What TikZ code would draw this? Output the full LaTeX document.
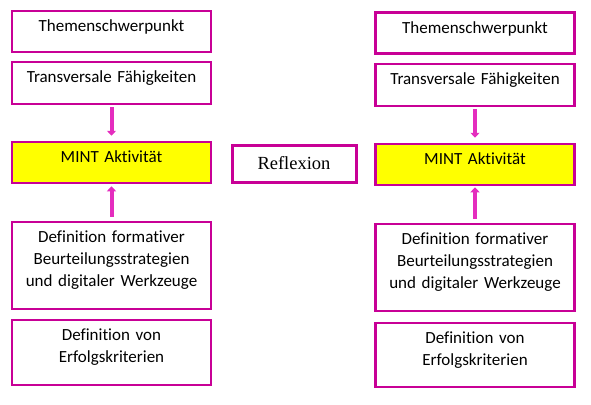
\documentclass[tikz,border=0pt]{standalone}
\usepackage{fontspec}
\setmainfont{Carlito}[Ligatures={NoCommon}]
\newfontfamily\reflexfont{Liberation Serif}
\usetikzlibrary{arrows.meta}
\definecolor{boxpink}{RGB}{200,0,150}
\definecolor{arrowpink}{RGB}{228,45,190}
\definecolor{mintyellow}{RGB}{255,255,0}
\begin{document}
\begin{tikzpicture}[x=1pt,y=-1pt,
	box/.style={draw=boxpink,line width=2.5pt,minimum width=199pt},
	txt/.style={anchor=base,yshift=-22pt,text width=195pt,align=center,inner sep=0pt,font=\fontsize{17}{22}\selectfont},
	flow/.style={draw=arrowpink,line width=4pt,-{Triangle[width=9pt,length=5pt]}}]
	\useasboundingbox (0,0) rectangle (591,404);
	% left column
	\node[box,minimum height=41pt,label={[txt]north:Themenschwerpunkt}] (themaL) at (111.5,31.5) {};
	\node[box,minimum height=42pt,label={[txt]north:Transversale Fähigkeiten}] (transL) at (111.5,83) {};
	\node[box,fill=mintyellow,minimum height=41pt,label={[txt]north:MINT Aktivität}] (mintL) at (111.5,162.5) {};
	\node[box,minimum height=87pt,label={[txt]north:Definition formativer\\Beurteilungsstrategien\\und digitaler Werkzeuge}] (beurtL) at (111.5,265.5) {};
	\node[box,minimum height=65pt,label={[txt]north:Definition von\\Erfolgskriterien}] (erfolgL) at (111.5,352.5) {};
	% middle
	\node[box,line width=3pt,minimum width=124pt,minimum height=37pt,font=\reflexfont\fontsize{18.5}{22}\selectfont] (reflex) at (294,163.5) {Reflexion};
	% right column
	\node[box,minimum height=41pt,label={[txt]north:Themenschwerpunkt}] (themaR) at (475,33) {};
	\node[box,minimum height=42pt,label={[txt]north:Transversale Fähigkeiten}] (transR) at (475,85) {};
	\node[box,fill=mintyellow,minimum height=41pt,label={[txt]north:MINT Aktivität}] (mintR) at (475,164.5) {};
	\node[box,minimum height=87pt,label={[txt]north:Definition formativer\\Beurteilungsstrategien\\und digitaler Werkzeuge}] (beurtR) at (475,267.5) {};
	\node[box,minimum height=64pt,label={[txt]north:Definition von\\Erfolgskriterien}] (erfolgR) at (475,355) {};
	% arrows
	\draw[flow,shorten <=2pt,shorten >=5pt] (transL) -- (mintL);
	\draw[flow,shorten <=4pt,shorten >=2pt] (beurtL) -- (mintL);
	\draw[flow,shorten <=2pt,shorten >=5pt] (transR) -- (mintR);
	\draw[flow,shorten <=4pt,shorten >=1pt] (beurtR) -- (mintR);
\end{tikzpicture}
\end{document}
